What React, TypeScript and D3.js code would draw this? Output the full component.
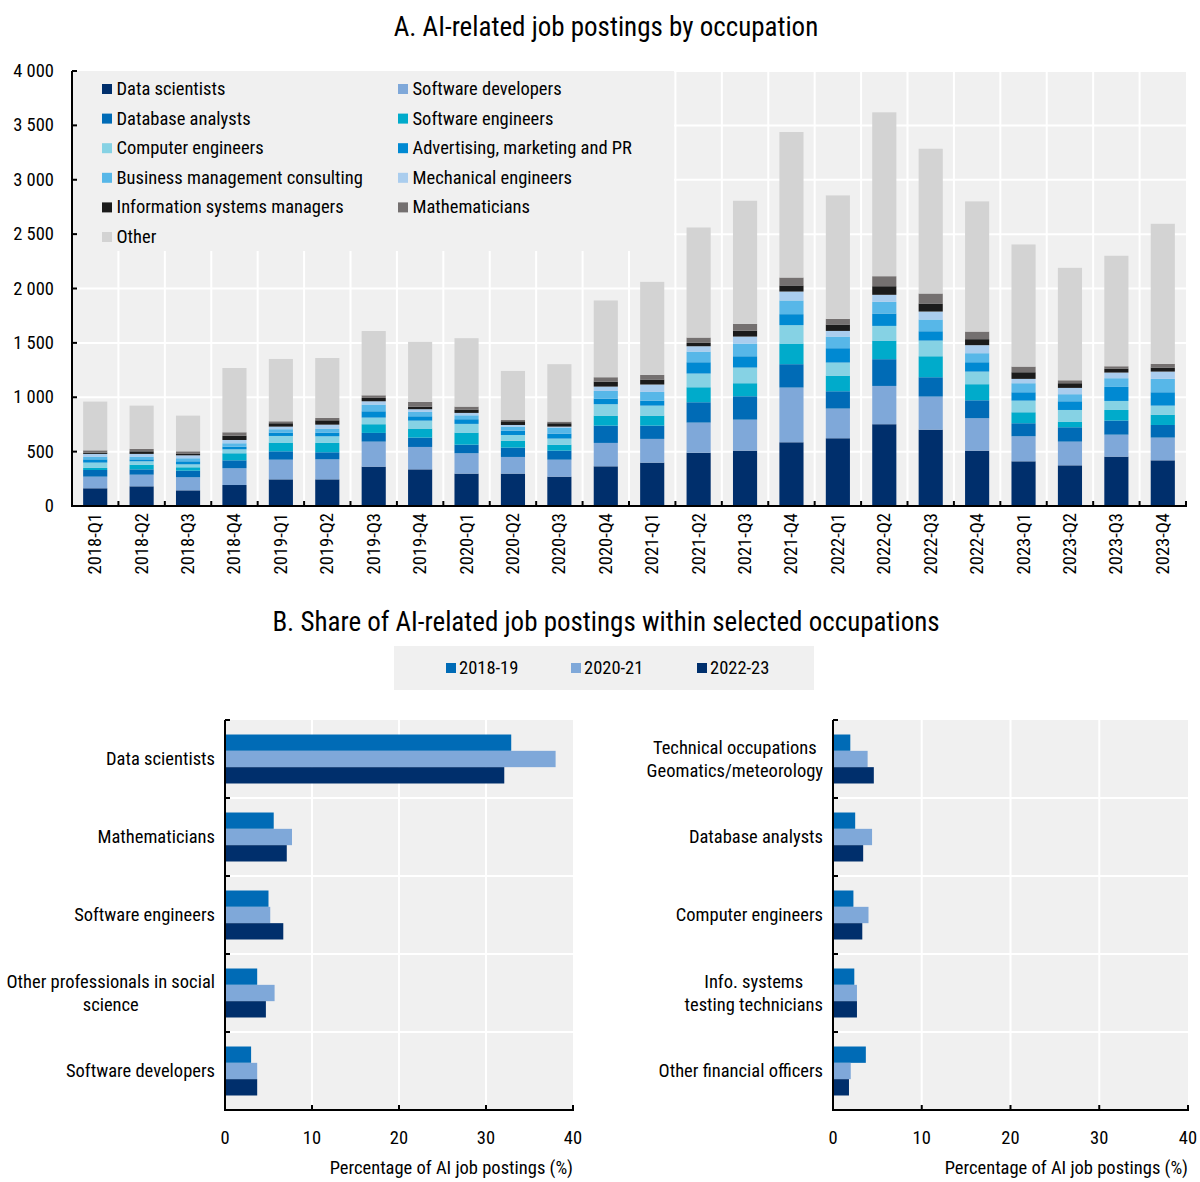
import React from 'react';
import * as d3 from 'd3';

// ---------- Panel A: AI-related job postings by occupation ----------
const quarters = [
  '2018-Q1', '2018-Q2', '2018-Q3', '2018-Q4',
  '2019-Q1', '2019-Q2', '2019-Q3', '2019-Q4',
  '2020-Q1', '2020-Q2', '2020-Q3', '2020-Q4',
  '2021-Q1', '2021-Q2', '2021-Q3', '2021-Q4',
  '2022-Q1', '2022-Q2', '2022-Q3', '2022-Q4',
  '2023-Q1', '2023-Q2', '2023-Q3', '2023-Q4',
];

const occupations = [
  'Data scientists',
  'Software developers',
  'Database analysts',
  'Software engineers',
  'Computer engineers',
  'Advertising, marketing and PR',
  'Business management consulting',
  'Mechanical engineers',
  'Information systems managers',
  'Mathematicians',
  'Other',
];

const occupationColors = [
  '#002f6c', '#7fa8d9', '#006bb6', '#00abcb', '#86d2e4', '#0089d2',
  '#57b7e8', '#aacdee', '#1b1b1b', '#747070', '#d3d3d3',
];

const dataScientists = [163, 181, 144, 193, 245, 245, 362, 337, 298, 298, 270, 365, 399, 490, 509, 586, 623, 752, 702, 509, 411, 374, 454, 420];
const softwareDevelopers = [107, 107, 120, 154, 181, 184, 230, 206, 187, 153, 156, 215, 218, 277, 285, 503, 273, 352, 304, 298, 230, 218, 202, 209];
const databaseAnalysts = [61, 49, 61, 73, 77, 65, 80, 86, 79, 86, 83, 159, 122, 187, 215, 215, 159, 246, 178, 165, 120, 132, 129, 116];
const softwareEngineers = [19, 43, 31, 65, 80, 86, 80, 83, 111, 64, 55, 92, 92, 138, 120, 190, 144, 171, 193, 148, 101, 52, 98, 95];
const computerEngineers = [49, 31, 27, 36, 61, 61, 61, 73, 80, 52, 56, 105, 92, 126, 144, 169, 120, 135, 144, 116, 107, 107, 83, 83];
const advertisingMarketingPR = [30, 18, 28, 25, 31, 34, 58, 40, 43, 40, 46, 52, 46, 104, 104, 101, 132, 114, 86, 86, 77, 80, 129, 123];
const businessConsulting = [25, 25, 28, 31, 31, 37, 62, 40, 36, 37, 55, 70, 80, 98, 117, 126, 107, 107, 108, 83, 83, 65, 80, 123];
const mechanicalEngineers = [25, 25, 27, 30, 24, 36, 30, 25, 22, 15, 9, 40, 68, 49, 64, 82, 52, 65, 73, 74, 40, 58, 52, 67];
const infoSystemsManagers = [12, 24, 13, 40, 31, 40, 31, 24, 31, 34, 31, 46, 46, 31, 55, 56, 59, 79, 74, 55, 61, 43, 37, 37];
const mathematicians = [21, 22, 24, 31, 18, 22, 24, 43, 27, 12, 15, 40, 43, 49, 62, 73, 52, 92, 92, 70, 52, 27, 21, 34];
const otherOccupations = [448, 398, 328, 591, 573, 551, 591, 552, 629, 451, 528, 706, 855, 1012, 1132, 1338, 1135, 1507, 1331, 1197, 1123, 1034, 1016, 1288];

const occupationSeries = [
  dataScientists, softwareDevelopers, databaseAnalysts, softwareEngineers,
  computerEngineers, advertisingMarketingPR, businessConsulting,
  mechanicalEngineers, infoSystemsManagers, mathematicians, otherOccupations,
];

const postingTicks = [0, 500, 1000, 1500, 2000, 2500, 3000, 3500, 4000];

// ---------- Panel B: share of AI-related postings within occupations ----------
const periods = ['2018-19', '2020-21', '2022-23'];
const periodColors = ['#006bb6', '#7fa8d9', '#002f6c'];

const leftOccupations = [
  'Data scientists',
  'Mathematicians',
  'Software engineers',
  'Other professionals in social\nscience',
  'Software developers',
];
const leftShare1819 = [32.9, 5.6, 5.0, 3.7, 3.0];
const leftShare2021 = [38.0, 7.7, 5.2, 5.7, 3.7];
const leftShare2223 = [32.1, 7.1, 6.7, 4.7, 3.7];

const rightOccupations = [
  'Technical occupations\nGeomatics/meteorology',
  'Database analysts',
  'Computer engineers',
  'Info. systems\ntesting technicians',
  'Other financial officers',
];
const rightShare1819 = [1.95, 2.5, 2.3, 2.4, 3.7];
const rightShare2021 = [3.9, 4.4, 4.0, 2.7, 2.0];
const rightShare2223 = [4.6, 3.4, 3.3, 2.7, 1.8];

const shareTicks = [0, 10, 20, 30, 40];

// ---------- styling ----------
const FONT = "'Liberation Sans Narrow', 'Arial Narrow', 'Roboto Condensed', sans-serif";
const FS = 18.5;
const TITLE_FS = 27;
const PLOT_BG = '#f0f0f0';
const GRID = '#ffffff';
const AXIS = '#000000';
const TEXT = '#000000';

const fmtThousands = (v: number) => d3.format(',')(v).replace(/,/g, ' ');

function measure(text: string, size: number): number {
  if (typeof document === 'undefined') return text.length * size * 0.42;
  const c = document.createElement('canvas').getContext('2d');
  if (!c) return text.length * size * 0.42;
  c.font = `${size}px ${FONT}`;
  return c.measureText(text).width;
}

function PanelA() {
  const left = 72, right = 1186, top = 71, bottom = 506;
  const x = d3.scaleBand<string>().domain(quarters).range([left, right])
    .paddingInner(0.48).paddingOuter(0.24);
  const y = d3.scaleLinear().domain([0, 4000]).range([bottom, top]);

  const rows = quarters.map((q, i) => {
    const r: Record<string, number | string> = { quarter: q };
    occupations.forEach((o, k) => { r[o] = occupationSeries[k][i]; });
    return r;
  });
  const stacked = d3.stack<Record<string, number | string>>().keys(occupations)(rows as any);

  const step = x.step();
  const boundaries = quarters.map((_, i) => left + i * step).concat([right]);

  // legend: two columns, filled row by row
  const legendLeft = 102, legendCol2 = 398, legendTop = 84, legendRow = 29.6;

  return (
    <g>
      <text x={606} y={27} textAnchor="middle" dominantBaseline="central"
        fontSize={TITLE_FS} fill={TEXT}>A. AI-related job postings by occupation</text>
      <rect x={left} y={top} width={right - left} height={bottom - top} fill={PLOT_BG} />
      {postingTicks.slice(1).map(t => (
        <line key={'h' + t} x1={left} x2={right} y1={y(t)} y2={y(t)} stroke={GRID} strokeWidth={2} />
      ))}
      {boundaries.slice(1, -1).map((b, i) => (
        <line key={'v' + i} x1={b} x2={b} y1={top} y2={bottom} stroke={GRID} strokeWidth={2} />
      ))}
      {/* legend panel hides the grid behind it */}
      <rect x={left + 1} y={top} width={673 - left} height={251 - top} fill={PLOT_BG} />
      {stacked.map((layer, k) => (
        <g key={layer.key} fill={occupationColors[k]}>
          {layer.map((d, i) => (
            <rect key={i} x={x(quarters[i])} width={x.bandwidth()}
              y={y(d[1])} height={Math.max(0, y(d[0]) - y(d[1]))} />
          ))}
        </g>
      ))}
      {occupations.map((o, k) => {
        const col = k % 2, row = Math.floor(k / 2);
        const lx = col === 0 ? legendLeft : legendCol2;
        const ly = legendTop + row * legendRow;
        return (
          <g key={'lg' + o}>
            <rect x={lx} y={ly} width={10} height={10} fill={occupationColors[k]} />
            <text x={lx + 14.5} y={ly + 5} dominantBaseline="central" fontSize={FS} fill={TEXT}>{o}</text>
          </g>
        );
      })}
      {/* axes */}
      <line x1={left} x2={left} y1={top} y2={bottom} stroke={AXIS} strokeWidth={2} />
      <line x1={left - 1} x2={right + 1} y1={bottom} y2={bottom} stroke={AXIS} strokeWidth={2} />
      {postingTicks.map(t => (
        <g key={'yt' + t}>
          <line x1={left} x2={left + 5} y1={y(t)} y2={y(t)} stroke={AXIS} strokeWidth={2} />
          <text x={54} y={y(t)} textAnchor="end" dominantBaseline="central" fontSize={FS} fill={TEXT}>
            {fmtThousands(t)}
          </text>
        </g>
      ))}
      {boundaries.map((b, i) => (
        <line key={'xt' + i} x1={b} x2={b} y1={bottom} y2={bottom - 5} stroke={AXIS} strokeWidth={2} />
      ))}
      {quarters.map(q => {
        const cx = (x(q) as number) + x.bandwidth() / 2;
        return (
          <text key={'xl' + q} transform={`translate(${cx},${513}) rotate(-90)`}
            textAnchor="end" dominantBaseline="central" fontSize={FS} fill={TEXT}>{q}</text>
        );
      })}
    </g>
  );
}

interface HBarProps {
  categories: string[];
  series: number[][];
  left: number;
  right: number;
  top: number;
  bottom: number;
}

function HBarPanel({ categories, series, left, right, top, bottom }: HBarProps) {
  const x = d3.scaleLinear().domain([0, 40]).range([left, right]);
  const y = d3.scaleBand<string>().domain(categories).range([top, bottom])
    .paddingInner(0.372).paddingOuter(0.186);
  const inner = d3.scaleBand<string>().domain(periods).range([0, y.bandwidth()]);
  const step = y.step();
  const boundaries = categories.map((_, i) => top + i * step).concat([bottom]);
  const labelX = left - 10;
  const lineH = 23;

  return (
    <g>
      <rect x={left} y={top} width={right - left} height={bottom - top} fill={PLOT_BG} />
      {shareTicks.slice(1, -1).map(t => (
        <line key={'gv' + t} x1={x(t)} x2={x(t)} y1={top} y2={bottom} stroke={GRID} strokeWidth={2} />
      ))}
      {boundaries.slice(1, -1).map((b, i) => (
        <line key={'gh' + i} x1={left} x2={right} y1={b} y2={b} stroke={GRID} strokeWidth={2} />
      ))}
      {categories.map((c, ci) => (
        <g key={'bars' + ci}>
          {periods.map((p, pi) => (
            <rect key={p} x={x(0)} width={x(series[pi][ci]) - x(0)}
              y={(y(c) as number) + (inner(p) as number)} height={inner.bandwidth()}
              fill={periodColors[pi]} />
          ))}
        </g>
      ))}
      <line x1={left} x2={left} y1={top} y2={bottom + 1} stroke={AXIS} strokeWidth={2} />
      <line x1={left - 1} x2={right + 1} y1={bottom} y2={bottom} stroke={AXIS} strokeWidth={2} />
      {boundaries.map((b, i) => (
        <line key={'yt' + i} x1={left} x2={left + 5} y1={b} y2={b} stroke={AXIS} strokeWidth={2} />
      ))}
      {shareTicks.map(t => (
        <g key={'xt' + t}>
          <line x1={x(t)} x2={x(t)} y1={bottom} y2={bottom - 5} stroke={AXIS} strokeWidth={2} />
          <text x={x(t)} y={bottom + 28} textAnchor="middle" dominantBaseline="central"
            fontSize={FS} fill={TEXT}>{t}</text>
        </g>
      ))}
      {categories.map(c => {
        const lines = c.split('\n');
        const cy = (y(c) as number) + y.bandwidth() / 2;
        if (lines.length === 1) {
          return (
            <text key={'cl' + c} x={labelX} y={cy} textAnchor="end" dominantBaseline="central"
              fontSize={FS} fill={TEXT}>{c}</text>
          );
        }
        const widest = Math.max(...lines.map(l => measure(l, FS)));
        const mid = labelX - widest / 2;
        return (
          <g key={'cl' + c}>
            {lines.map((l, li) => (
              <text key={li} x={mid} y={cy + (li - (lines.length - 1) / 2) * lineH}
                textAnchor="middle" dominantBaseline="central" fontSize={FS} fill={TEXT}>{l}</text>
            ))}
          </g>
        );
      })}
      <text x={right} y={1168} textAnchor="end" dominantBaseline="central" fontSize={FS} fill={TEXT}>
        Percentage of AI job postings (%)
      </text>
    </g>
  );
}

function PanelB() {
  const legendX = [446, 571, 697];
  return (
    <g>
      <text x={606} y={622} textAnchor="middle" dominantBaseline="central" fontSize={TITLE_FS} fill={TEXT}>
        B. Share of AI-related job postings within selected occupations
      </text>
      <rect x={394} y={646} width={420} height={44} fill={PLOT_BG} />
      {periods.map((p, i) => (
        <g key={'pl' + p}>
          <rect x={legendX[i]} y={663} width={10} height={10} fill={periodColors[i]} />
          <text x={legendX[i] + 13} y={668} dominantBaseline="central" fontSize={FS} fill={TEXT}>{p}</text>
        </g>
      ))}
      <HBarPanel categories={leftOccupations} series={[leftShare1819, leftShare2021, leftShare2223]}
        left={225} right={573} top={720} bottom={1110} />
      <HBarPanel categories={rightOccupations} series={[rightShare1819, rightShare2021, rightShare2223]}
        left={833} right={1188} top={720} bottom={1110} />
    </g>
  );
}

export default function App() {
  return (
    <svg width={1200} height={1182} viewBox="0 0 1200 1182"
      style={{ position: 'absolute', left: 0, top: 0, background: '#ffffff' }}
      fontFamily={FONT}>
      <PanelA />
      <PanelB />
    </svg>
  );
}
